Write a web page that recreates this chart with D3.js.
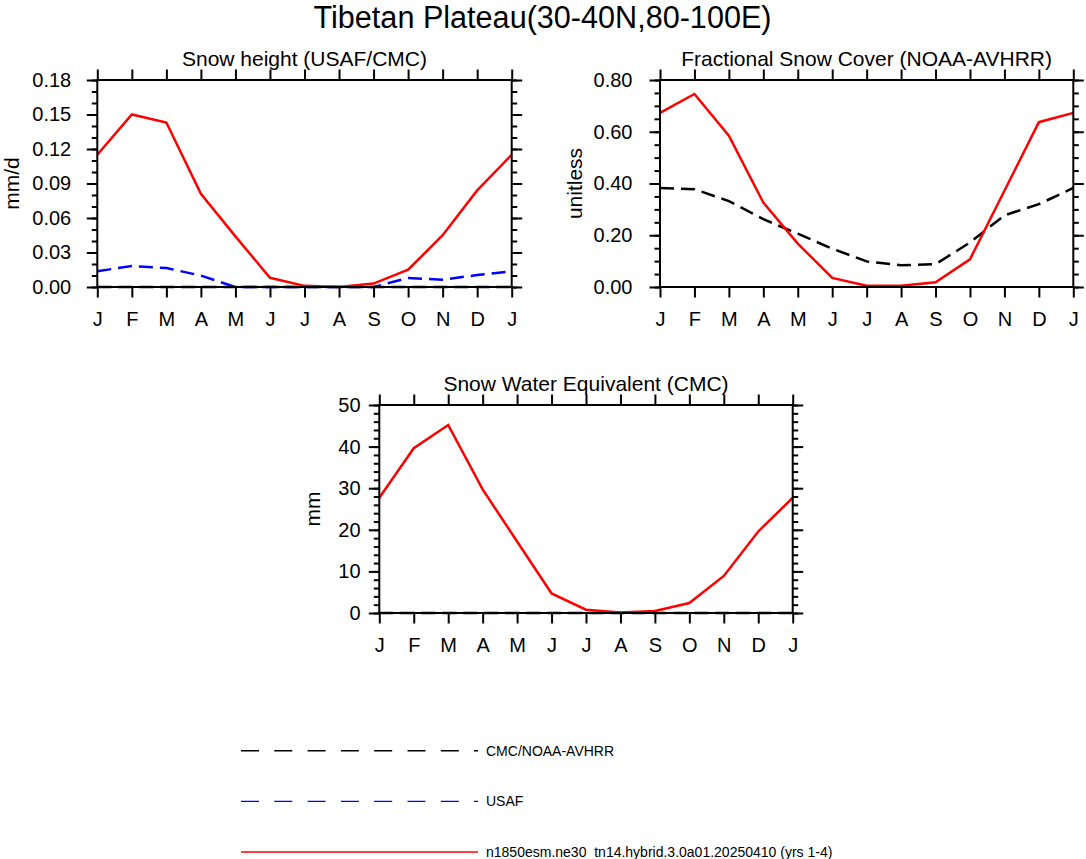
<!DOCTYPE html>
<html>
<head>
<meta charset="utf-8">
<script src="https://cdn.jsdelivr.net/npm/d3@7"></script>
<style>
  body { margin: 0; background: #fff; }
  svg { display: block; font-family: "Liberation Sans", Arial, Helvetica, sans-serif; }
</style>
</head>
<body>
<div id="chart"></div>
<script>
// month labels (Jan repeated at the end)
const months = ["J","F","M","A","M","J","J","A","S","O","N","D","J"];

// Snow height (mm/d)
const snowHeightModel = [0.115, 0.150, 0.143, 0.081, 0.044, 0.008, 0.001, 0.000, 0.003, 0.015, 0.045, 0.084, 0.115];
const snowHeightUSAF  = [0.0137, 0.0183, 0.0165, 0.0099, 0.0, 0.0, 0.0, 0.0, 0.0, 0.0078, 0.0064, 0.0104, 0.0137];
const snowHeightCMC   = [0, 0, 0, 0, 0, 0, 0, 0, 0, 0, 0, 0, 0];

// Fractional snow cover (unitless)
const fscModel = [0.673, 0.746, 0.585, 0.326, 0.168, 0.035, 0.005, 0.005, 0.018, 0.107, 0.372, 0.637, 0.673];
const fscObs   = [0.383, 0.378, 0.332, 0.262, 0.206, 0.148, 0.099, 0.084, 0.088, 0.172, 0.277, 0.320, 0.383];

// Snow water equivalent (mm)
const sweModel = [27.7, 39.6, 45.2, 29.7, 17.2, 4.7, 0.8, 0.1, 0.5, 2.4, 8.9, 19.6, 27.7];
const sweObs   = [0, 0, 0, 0, 0, 0, 0, 0, 0, 0, 0, 0, 0];

// y tick labels
const shTicks  = [0, 0.03, 0.06, 0.09, 0.12, 0.15, 0.18];
const fscTicks = [0, 0.2, 0.4, 0.6, 0.8];
const sweTicks = [0, 10, 20, 30, 40, 50];

// legend
const legendLabels = ["CMC/NOAA-AVHRR", "USAF", "n1850esm.ne30_tn14.hybrid.3.0a01.20250410 (yrs 1-4)"];
const legendColors = ["#000", "#0000ff", "#ff0000"];

const W = 1086, H = 859;
const svg = d3.select("#chart").append("svg")
  .attr("width", W).attr("height", H);
svg.append("rect").attr("width", W).attr("height", H).attr("fill", "#fff");

svg.append("text")
  .attr("x", 542.5).attr("y", 28)
  .attr("text-anchor", "middle")
  .attr("font-size", 31)
  .attr("textLength", 458).attr("lengthAdjust", "spacingAndGlyphs")
  .text("Tibetan Plateau(30-40N,80-100E)");

const panels = [
  { x0: 97.3, y0: 80, w: 414.4, h: 207, ymax: 0.18, ticks: shTicks, minor: 18, fmt: ".2f",
    title: "Snow height (USAF/CMC)", ylabel: "mm/d", ylabelX: 11.5, pad: 15.6,
    series: [
      { v: snowHeightCMC, color: "#000", dash: "14 7" },
      { v: snowHeightUSAF, color: "#0000ff", dash: "14 7" },
      { v: snowHeightModel, color: "#ff0000", dash: null }
    ] },
  { x0: 660, y0: 80, w: 413.3, h: 207, ymax: 0.8, ticks: fscTicks, minor: 16, fmt: ".2f",
    title: "Fractional Snow Cover (NOAA-AVHRR)", ylabel: "unitless", ylabelX: 574, pad: 17,
    series: [
      { v: fscObs, color: "#000", dash: "14 7" },
      { v: fscModel, color: "#ff0000", dash: null }
    ] },
  { x0: 379.3, y0: 405, w: 413.4, h: 208, ymax: 50, ticks: sweTicks, minor: 25, fmt: "d",
    title: "Snow Water Equivalent (CMC)", ylabel: "mm", ylabelX: 312, pad: 8.3,
    series: [
      { v: sweObs, color: "#000", dash: "14 7" },
      { v: sweModel, color: "#ff0000", dash: null }
    ] }
];

function styleAxis(g, size) {
  g.select(".domain").remove();
  g.selectAll("line").attr("stroke", "#000").attr("stroke-width", 2);
  g.selectAll("text").attr("font-size", size).attr("fill", "#000")
    .attr("font-family", "Liberation Sans, Arial, Helvetica, sans-serif");
}

panels.forEach(p => {
  const g = svg.append("g").attr("transform", `translate(${p.x0},${p.y0})`);
  const x = d3.scaleLinear().domain([0, months.length - 1]).range([0, p.w]);
  const y = d3.scaleLinear().domain([0, p.ymax]).range([p.h, 0]);
  const idx = d3.range(months.length);
  const minorTicks = y.ticks(p.minor);

  // data lines
  const line = d3.line().x((d, i) => x(i)).y(d => y(d));
  p.series.forEach(s => {
    g.append("path")
      .datum(s.v)
      .attr("d", line)
      .attr("fill", "none")
      .attr("stroke", s.color)
      .attr("stroke-width", 2.5)
      .attr("stroke-dasharray", s.dash);
  });

  // minor ticks
  g.append("g").call(d3.axisLeft(y).tickValues(minorTicks).tickSize(5.5).tickFormat(""))
    .call(a => styleAxis(a, 20));
  g.append("g").attr("transform", `translate(${p.w},0)`)
    .call(d3.axisRight(y).tickValues(minorTicks).tickSize(5.5).tickFormat(""))
    .call(a => styleAxis(a, 20));

  // major ticks
  g.append("g")
    .call(d3.axisLeft(y).tickValues(p.ticks).tickSize(10.5).tickPadding(p.pad).tickFormat(d3.format(p.fmt)))
    .call(a => styleAxis(a, 20));
  g.append("g").attr("transform", `translate(${p.w},0)`)
    .call(d3.axisRight(y).tickValues(p.ticks).tickSize(10.5).tickFormat(""))
    .call(a => styleAxis(a, 20));
  g.append("g").attr("transform", `translate(0,${p.h})`)
    .call(d3.axisBottom(x).tickValues(idx).tickSize(10.5).tickPadding(14.5).tickFormat(i => months[i]))
    .call(a => styleAxis(a, 20));
  g.append("g")
    .call(d3.axisTop(x).tickValues(idx).tickSize(10.5).tickFormat(""))
    .call(a => styleAxis(a, 20));

  // frame
  g.append("rect")
    .attr("width", p.w).attr("height", p.h)
    .attr("fill", "none").attr("stroke", "#000").attr("stroke-width", 2);

  // titles
  svg.append("text")
    .attr("x", p.x0 + p.w / 2).attr("y", p.y0 - 14.5)
    .attr("text-anchor", "middle").attr("font-size", 21)
    .text(p.title);
  svg.append("text")
    .attr("transform", `translate(${p.ylabelX},${p.y0 + p.h / 2}) rotate(-90)`)
    .attr("text-anchor", "middle").attr("dominant-baseline", "central")
    .attr("font-size", 21)
    .text(p.ylabel);
});

// legend
const legendY = d3.scalePoint().domain(legendLabels).range([750.7, 852]);
const lg = svg.append("g");
legendLabels.forEach((lab, i) => {
  lg.append("line")
    .attr("x1", 241).attr("x2", 478)
    .attr("y1", legendY(lab)).attr("y2", legendY(lab))
    .attr("stroke", legendColors[i]).attr("stroke-width", 1.4)
    .attr("stroke-dasharray", i < 2 ? "18 15.3" : null);
  lg.append("text")
    .attr("x", 486).attr("y", legendY(lab))
    .attr("dominant-baseline", "central")
    .attr("font-size", 14)
    .text(lab);
});
</script>
</body>
</html>
